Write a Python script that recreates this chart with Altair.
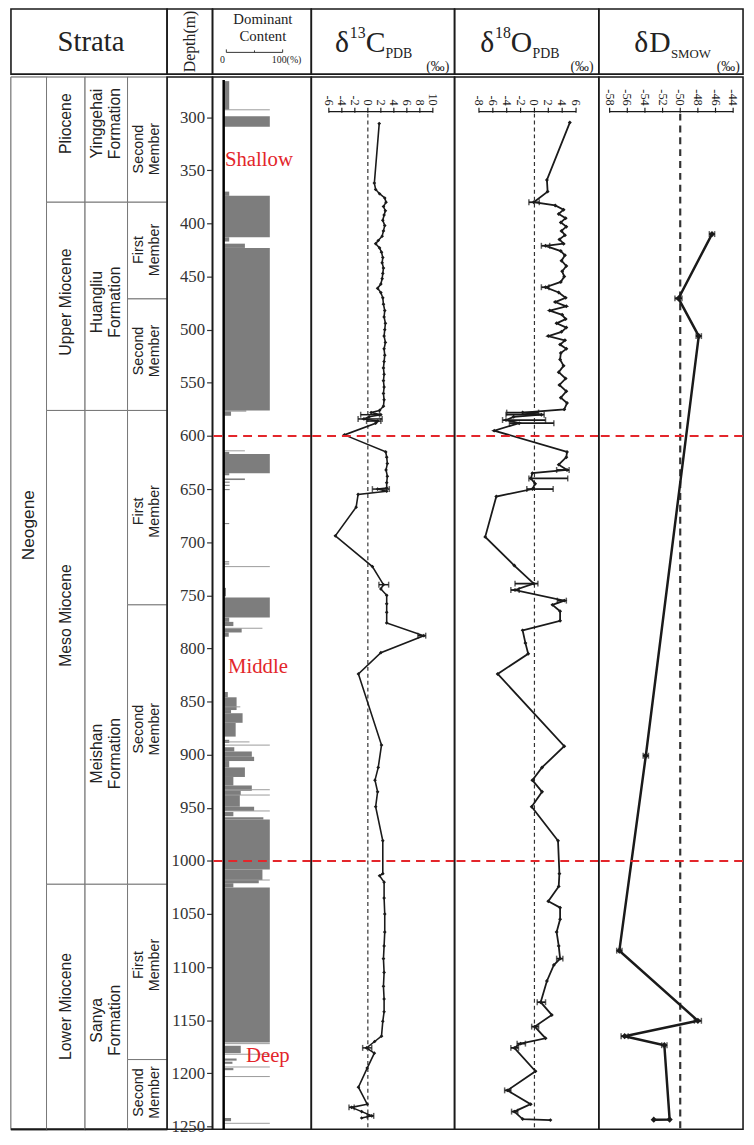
import altair as alt
import pandas as pd

# ---------------- data ----------------
DEPTH_TOP, DEPTH_BOTTOM = 262.2, 1252.6
DEPTH_TICKS = list(range(300, 1251, 50))
RED_DEPTHS = [600, 1000]

ERA_NAMES = ["Neogene"]
ERA_BOUNDS = [262.2, 1252.6]
ERA_LABEL_D = [684]

EPOCH_NAMES = ["Pliocene", "Upper Miocene", "Meso Miocene", "Lower Miocene"]
EPOCH_BOUNDS = [262.2, 380, 576, 1022, 1252.6]
EPOCH_LABEL_D = [306, 474, 769, 1137]

FORM_NAMES = ["Yinggehai\nFormation", "Huangliu\nFormation", "Meishan\nFormation", "Sanya\nFormation"]
FORM_BOUNDS = [262.2, 380, 576, 1022, 1252.6]
FORM_LABEL_D = [306, 474, 899, 1150]

MEMBER_NAMES = ["Second\nMember", "First\nMember", "Second\nMember", "First\nMember",
                "Second\nMember", "First\nMember", "Second\nMember"]
MEMBER_BOUNDS = [262.2, 380, 471, 576, 759, 1022, 1187, 1252.6]
MEMBER_LABEL_D = [330, 425, 520, 671, 876, 1098, 1218]

# dominant content bars: top depth, bottom depth, percent
BAR_TOP = [266, 299, 370, 374, 413, 419, 423, 576, 577, 615, 617, 635, 640, 643, 646, 650,
           682, 718, 720, 743, 752, 771, 775, 781, 785, 841, 846, 858, 861, 870, 886, 893,
           897, 902, 906, 912, 921, 929, 934, 938, 949, 954, 959, 961, 1008, 1018, 1021,
           1025, 1174, 1186, 1189, 1195, 1242]
BAR_BOTTOM = [293, 309, 374, 413, 417, 423, 576, 577, 581, 617, 635, 637, 641.5, 644, 647, 651,
              683, 719, 721, 751, 771, 775, 779, 785, 789, 846, 858, 861, 870, 883, 889, 897,
              902, 906, 912, 921, 929, 934, 938, 949, 953, 958, 961, 1008, 1018, 1021, 1025,
              1171, 1181, 1188, 1191, 1197, 1245]
BAR_VALUE = [12, 100, 12, 100, 12, 46, 100, 49, 16, 12, 100, 12, 46, 13, 13, 13,
             12, 12, 12, 5, 100, 12, 21, 39, 11, 9, 28, 16, 41, 26, 12, 23,
             61, 66, 12, 46, 21, 61, 37, 35, 66, 21, 86, 100, 84, 76, 21,
             100, 37, 28, 19, 21, 16]
THIN_DEPTH = [293, 614, 723, 781, 855, 888, 891, 933, 938, 953, 1018, 1172, 1182, 1194, 1203, 1247]
THIN_VALUE = [100, 46, 100, 84, 36, 56, 100, 100, 100, 100, 100, 100, 100, 100, 100, 100]

ZONE_NAMES = ["Shallow", "Middle", "Deep"]
ZONE_DEPTH = [340, 818, 1184]

C13_DEPTH = [306, 362, 368, 372, 376, 380, 384, 388, 392, 397, 402, 407, 412, 416, 419, 423, 427,
             432, 437, 442, 447, 452, 457, 461, 465, 470, 476, 482, 488, 494, 500, 506, 512, 518,
             524, 530, 536, 542, 548, 554, 560, 566, 572, 576, 578, 580, 582, 584, 586, 588, 599,
             615, 620, 626, 632, 638, 644, 649, 650, 652, 655, 667, 694, 723, 740, 744, 750, 758,
             766, 776, 788, 804, 824, 891, 912, 924, 935, 949, 981, 1012, 1014, 1020, 1035, 1050,
             1067, 1080, 1092, 1105, 1118, 1130, 1142, 1151, 1165, 1170, 1176, 1181, 1195, 1213,
             1229, 1232, 1236, 1240, 1242]
C13_VALUE = [1.75, 1.0, 1.2, 1.8, 2.6, 2.8, 2.4, 2.7, 2.5, 2.3, 2.6, 2.4, 2.2, 1.6, 1.2, 1.8, 2.1,
             2.3, 2.2, 2.4, 2.3, 2.2, 2.0, 1.5, 2.0, 2.3, 2.4, 2.6, 2.5, 2.7, 2.6, 2.5, 2.7, 2.5,
             2.6, 2.5, 2.4, 2.5, 2.4, 2.5, 2.4, 2.5, 2.4, 1.8, 0.5, 2.0, 0.2, -0.6, 1.5, 1.2, -3.6,
             2.75, 2.9, 3.0, 2.8, 3.0, 2.9, 2.9, 1.5, 2.9, -1.5, -1.8, -5.0, 0.7, 2.4, 2.0, 2.9, 2.9,
             2.9, 2.9, 8.6, 2.0, -1.45, 2.1, 1.6, 1.1, 1.5, 1.2, 2.3, 2.3, 1.8, 2.5, 2.5, 2.6,
             2.6, 2.5, 2.4, 2.5, 2.4, 2.5, 2.5, 2.3, 2.1, 1.05, -0.2, 1.0, -0.1, -1.45,
             -0.1, -2.5, -0.95, 0.6, -0.95]
# horizontal error bars (depth, low, high)
C13_ERR_D = [580, 584, 586, 650, 740, 788, 1176, 1232, 1240]
C13_ERR_LO = [-1.1, -1.5, -0.2, 0.7, 1.7, 7.7, -0.8, -2.9, -0.1]
C13_ERR_HI = [1.8, 2.2, 2.0, 3.3, 3.2, 8.9, 0.6, -2.1, 0.9]

O18_DEPTH = [305, 359, 370, 380, 383, 387, 391, 395, 399, 403, 407, 411, 415, 419, 421, 426, 430,
             435, 440, 445, 450, 455, 460, 465, 470, 474, 478, 482, 486, 490, 494, 498, 502, 506,
             510, 514, 518, 522, 528, 534, 540, 546, 552, 558, 564, 569, 575, 578, 580, 582, 585,
             588, 595, 615, 620, 627, 632, 635, 640, 645, 650, 657, 695, 722, 739, 745, 755, 759,
             765, 774, 783, 795, 805, 824, 892, 912, 924, 935, 949, 981, 1012, 1024, 1038, 1044,
             1055, 1067, 1080, 1092, 1098, 1113, 1133, 1145, 1156, 1167, 1172, 1176, 1198, 1216,
             1229, 1236, 1243, 1244]
O18_VALUE = [5.1, 1.8, 1.9, -0.1, 3.0, 4.2, 3.5, 4.5, 3.8, 4.6, 3.9, 4.4, 3.6, 4.2, 1.6, 3.8, 4.4,
             3.9, 4.6, 4.0, 4.3, 3.8, 1.6, 3.5, 4.5, 3.0, 4.6, 2.2, 4.0, 4.5, 3.2, 4.6, 3.9, 2.0,
             4.4, 3.7, 4.6, 3.8, 3.7, 4.2, 3.5, 4.5, 3.6, 4.6, 3.8, 4.7, 4.3, -1.7, 1.0, -3.0, -4.1,
             -2.2, -5.8, 4.7, 4.6, 3.5, 4.7, -0.3, -0.5, 0.1, -0.3, -5.5, -7.1, -2.9, -0.1, -2.8, 4.3, 2.6,
             3.7, 3.7, -1.7, -1.3, -0.9, -5.3, 4.3, 1.1, -0.3, 1.1, -0.4, 3.4, 3.6, 3.5, 2.0, 3.7,
             3.7, 3.2, 3.5, 3.7, 2.8, 1.8, 0.9, 2.5, 0.05, 1.6, -2.0, -2.9, 0.15, -3.9,
             -0.55, -2.9, -1.7, 2.3]
O18_ERR_D = [380, 421, 460, 578, 580, 585, 588, 632, 640, 650, 739, 745, 755, 1092, 1133, 1156,
             1172, 1176, 1216, 1236]
O18_ERR_LO = [-0.8, 1.0, 1.0, -4.0, -4.1, -4.6, -3.6, 3.2, -0.8, -1.1, -2.8, -3.4, 3.3, 3.2, 0.4,
              -0.4, -2.5, -3.4, -4.3, -3.3]
O18_ERR_HI = [0.7, 2.2, 2.1, 0.6, 1.4, 1.6, 2.8, 5.0, 4.8, 2.7, 0.5, -2.2, 4.6, 4.1, 1.6, 0.6,
              -1.3, -2.3, -3.4, -2.4]

DD_DEPTH = [410, 470.5, 506, 901, 1084.5, 1150.5, 1165, 1173.5, 1243.5, 1243.6]
DD_VALUE = [-46.4, -50.2, -47.9, -53.9, -56.9, -48.0, -56.3, -51.8, -51.2, -53.0]
DD_ERR_D = [410, 470.5, 506, 901, 1084.5, 1150.5, 1165, 1173.5]
DD_ERR_LO = [-46.7, -50.6, -48.2, -54.2, -57.2, -48.4, -56.7, -52.1]
DD_ERR_HI = [-46.1, -49.8, -47.6, -53.6, -56.6, -47.6, -55.9, -51.5]

C13_TICKS = [-6, -4, -2, 0, 2, 4, 6, 8, 10]
O18_TICKS = [-8, -6, -4, -2, 0, 2, 4, 6]
DD_TICKS = [-58, -56, -54, -52, -50, -48, -46, -44]

# ---------------- layout / style ----------------
SERIF = "Liberation Serif"
SANS = "Liberation Sans"
INK = "#1a1a1a"
RED = "#e3262b"
H_HEAD = 66
H_BODY = 1065
AXIS_Y = 35
W_ERA, W_EPOCH, W_FORM, W_MEMBER = 36, 39, 43, 40
W_DEPTH, W_DOM, W_C13, W_O18, W_DD = 46, 100, 145, 146, 146

yscale = alt.Scale(domain=[DEPTH_TOP, DEPTH_BOTTOM], reverse=True, nice=False, zero=False)
ONE = pd.DataFrame({"k": [0]})


def red_lines():
    return alt.Chart(pd.DataFrame({"d": RED_DEPTHS})).mark_rule(
        color=RED, strokeWidth=2, strokeDash=[9, 6]
    ).encode(y=alt.Y("d:Q", scale=yscale, axis=None))


def strata_panel(names, bounds, label_d, width, size, view_stroke="#777"):
    df = pd.DataFrame({"name": names, "top": bounds[:-1], "bottom": bounds[1:], "ly": label_d})
    base = alt.Chart(df)
    two_lines = any("\n" in n for n in names)
    lh = size + 2
    cells = base.mark_rect(fill="white", stroke="#777", strokeWidth=1).encode(
        x=alt.value(0), x2=alt.value(width),
        y=alt.Y("top:Q", scale=yscale, axis=None), y2="bottom:Q")
    labels = base.mark_text(angle=270, font=SANS, fontSize=size, lineBreak="\n",
                            lineHeight=lh, color="#222", align="center",
                            baseline="middle", dy=-lh / 2 if two_lines else 0).encode(
        x=alt.value(width / 2), y=alt.Y("ly:Q", scale=yscale, axis=None), text="name:N")
    bottom = alt.Chart(ONE).mark_rule(color=INK, strokeWidth=2).encode(
        x=alt.value(0), x2=alt.value(width), y=alt.value(H_BODY))
    return alt.layer(cells, labels, bottom).properties(
        width=width, height=H_BODY, view=alt.ViewBackground(stroke=view_stroke, strokeWidth=1.2))


era = strata_panel(ERA_NAMES, ERA_BOUNDS, ERA_LABEL_D, W_ERA, 17.5, INK)
epoch = strata_panel(EPOCH_NAMES, EPOCH_BOUNDS, EPOCH_LABEL_D, W_EPOCH, 16)
form = strata_panel(FORM_NAMES, FORM_BOUNDS, FORM_LABEL_D, W_FORM, 16)
member = strata_panel(MEMBER_NAMES, MEMBER_BOUNDS, MEMBER_LABEL_D, W_MEMBER, 14.5)

# depth column
depth_axis = alt.Axis(orient="left", offset=-W_DEPTH, values=DEPTH_TICKS, domain=False,
                      tickSize=6, tickColor="#333", tickWidth=1.2, labelFont=SERIF,
                      labelFontSize=17, labelColor="#333", labelPadding=2, grid=False,
                      title=None, format="d")
depth_panel = alt.Chart(pd.DataFrame({"depth": DEPTH_TICKS})).mark_rule(opacity=0).encode(
    y=alt.Y("depth:Q", scale=yscale, axis=depth_axis)
).properties(width=W_DEPTH, height=H_BODY)

# dominant content
dom_x = alt.Scale(domain=[-24.2, 189.9], nice=False, zero=False)
bars_df = pd.DataFrame({"top": BAR_TOP, "bottom": BAR_BOTTOM, "value": BAR_VALUE})
thin_df = pd.DataFrame({"d": THIN_DEPTH, "value": THIN_VALUE})
bars = alt.Chart(bars_df).mark_rect(color="#7d7d7d").encode(
    x=alt.X("value:Q", scale=dom_x, axis=None), x2=alt.X2Datum(0),
    y=alt.Y("top:Q", scale=yscale, axis=None), y2="bottom:Q")
thin = alt.Chart(thin_df).mark_rule(color="#9a9a9a", strokeWidth=1).encode(
    x=alt.X("value:Q", axis=None), x2=alt.X2Datum(0), y=alt.Y("d:Q", axis=None))
zero_line = alt.Chart(ONE).mark_rule(color="#000", strokeWidth=2.5).encode(
    x=alt.XDatum(0, axis=None), y=alt.value(3), y2=alt.value(H_BODY))
zone_layers = []
for name, d, px in zip(ZONE_NAMES, ZONE_DEPTH, [47, 46, 56]):
    zone_layers.append(
        alt.Chart(pd.DataFrame({"name": [name], "d": [d]})).mark_text(
            font=SERIF, fontSize=21, color=RED, align="center", baseline="middle"
        ).encode(x=alt.value(px), y=alt.Y("d:Q", axis=None), text="name:N"))
dom_panel = alt.layer(bars, thin, zero_line, red_lines(), *zone_layers).properties(
    width=W_DOM, height=H_BODY)


def iso_panel(depths, values, err_d, err_lo, err_hi, domain, ticks, ref, width, lw, psize,
              ref_w, ref_dash, err_w):
    df = pd.DataFrame({"depth": depths, "value": values, "i": list(range(len(depths)))})
    edf = pd.DataFrame({"d": err_d, "lo": err_lo, "hi": err_hi})
    tdf = pd.DataFrame({"t": ticks, "lab": [str(t) for t in ticks]})
    xs = alt.Scale(domain=domain, nice=False, zero=False)
    base = alt.Chart(df)
    line = base.mark_line(color=INK, strokeWidth=lw).encode(
        x=alt.X("value:Q", scale=xs, axis=None),
        y=alt.Y("depth:Q", scale=yscale, axis=None), order="i:Q")
    pts = base.mark_point(filled=True, shape="diamond", size=psize, color=INK, opacity=1).encode(
        x=alt.X("value:Q", axis=None), y=alt.Y("depth:Q", axis=None))
    err = alt.Chart(edf).mark_rule(color=INK, strokeWidth=err_w).encode(
        x=alt.X("lo:Q", axis=None), x2="hi:Q", y=alt.Y("d:Q", axis=None))
    cap_lo = alt.Chart(edf).mark_tick(color=INK, thickness=1.5, size=6, orient="vertical").encode(
        x=alt.X("lo:Q", axis=None), y=alt.Y("d:Q", axis=None))
    cap_hi = alt.Chart(edf).mark_tick(color=INK, thickness=1.5, size=6, orient="vertical").encode(
        x=alt.X("hi:Q", axis=None), y=alt.Y("d:Q", axis=None))
    axis_line = alt.Chart(ONE).mark_rule(color=INK, strokeWidth=1.3).encode(
        x=alt.XDatum(ticks[0], axis=None), x2=alt.X2Datum(ticks[-1]), y=alt.value(AXIS_Y))
    tick_marks = alt.Chart(tdf).mark_rule(color=INK, strokeWidth=1.2).encode(
        x=alt.X("t:Q", axis=None), y=alt.value(AXIS_Y - 4), y2=alt.value(AXIS_Y + 1))
    tick_labels = alt.Chart(tdf).mark_text(angle=90, align="right", baseline="middle",
                                           font=SERIF, fontSize=12.5, color="#222").encode(
        x=alt.X("t:Q", axis=None), y=alt.value(AXIS_Y - 6), text="lab:N")
    ref_line = alt.Chart(ONE).mark_rule(color="#333", strokeWidth=ref_w, strokeDash=ref_dash).encode(
        x=alt.XDatum(ref, axis=None), y=alt.value(AXIS_Y + 2), y2=alt.value(H_BODY))
    return alt.layer(ref_line, axis_line, tick_marks, tick_labels, line, err, cap_lo, cap_hi,
                     pts, red_lines()).properties(width=width, height=H_BODY)


c13 = iso_panel(C13_DEPTH, C13_VALUE, C13_ERR_D, C13_ERR_LO, C13_ERR_HI, [-8.7, 13.34],
                C13_TICKS, 0, W_C13, 1.6, 14, 1.2, [4, 3], 1.5)
o18 = iso_panel(O18_DEPTH, O18_VALUE, O18_ERR_D, O18_ERR_LO, O18_ERR_HI, [-11.52, 9.28],
                O18_TICKS, 0, W_O18, 1.8, 16, 1.2, [4, 3], 1.8)
dd = iso_panel(DD_DEPTH, DD_VALUE, DD_ERR_D, DD_ERR_LO, DD_ERR_HI, [-59.23, -42.88],
               DD_TICKS, -50, W_DD, 2.5, 40, 2.2, [7, 5], 2)

body = alt.hconcat(era, epoch, form, member, depth_panel, dom_panel, c13, o18, dd,
                   spacing=0, bounds="flush")


# ---------------- header ----------------
def txt(text, x, y, size, font=SERIF, angle=0, align="left", baseline="alphabetic"):
    return alt.Chart(ONE).mark_text(font=font, fontSize=size, angle=angle, align=align,
                                    baseline=baseline, color="#222").encode(
        x=alt.value(x), y=alt.value(y), text=alt.value(text))


def cell(width, layers):
    return alt.layer(*layers).properties(width=width, height=H_HEAD)


W_STRATA = W_ERA + W_EPOCH + W_FORM + W_MEMBER
h_strata = cell(W_STRATA, [txt("Strata", W_STRATA / 2 + 2, 34, 29, align="center", baseline="middle")])
h_depth = cell(W_DEPTH, [txt("Depth(m)", 23, 33, 16, angle=270, align="center", baseline="middle")])


def hrule(x1, x2, y1, y2, w=1):
    return alt.Chart(ONE).mark_rule(color="#333", strokeWidth=w).encode(
        x=alt.value(x1), x2=alt.value(x2), y=alt.value(y1), y2=alt.value(y2))


h_dom = cell(W_DOM, [
    txt("Dominant", 51, 10, 15, align="center", baseline="middle"),
    txt("Content", 51, 27, 15, align="center", baseline="middle"),
    hrule(14, 71, 44, 44), hrule(14, 14, 41, 44), hrule(42.5, 42.5, 42, 44), hrule(71, 71, 41, 44),
    txt("0", 10, 55, 10, align="center"),
    txt("100(%)", 75, 55, 10, align="center"),
])

h_c13 = cell(W_C13, [
    txt("δ", 24, 44, 30), txt("13", 39, 29, 16), txt("C", 55, 44, 30), txt("PDB", 75, 50, 14),
    txt("(‰)", 128, 63, 14, align="center"),
])
h_o18 = cell(W_O18, [
    txt("δ", 26, 44, 30), txt("18", 41, 29, 16), txt("O", 57, 44, 30), txt("PDB", 79, 50, 14),
    txt("(‰)", 129, 63, 14, align="center"),
])
h_dd = cell(W_DD, [
    txt("δ", 36, 44, 30), txt("D", 51, 44, 30), txt("SMOW", 73, 50, 13),
    txt("(‰)", 131, 63, 14, align="center"),
])

header = alt.hconcat(h_strata, h_depth, h_dom, h_c13, h_o18, h_dd, spacing=0, bounds="flush")

chart = alt.vconcat(header, body, spacing=0).configure_view(
    stroke=INK, strokeWidth=1.6
).properties(padding={"top": -7, "left": 1, "right": 1, "bottom": 1})

chart.save("out.html", embed_options={"renderer": "svg", "actions": False})
